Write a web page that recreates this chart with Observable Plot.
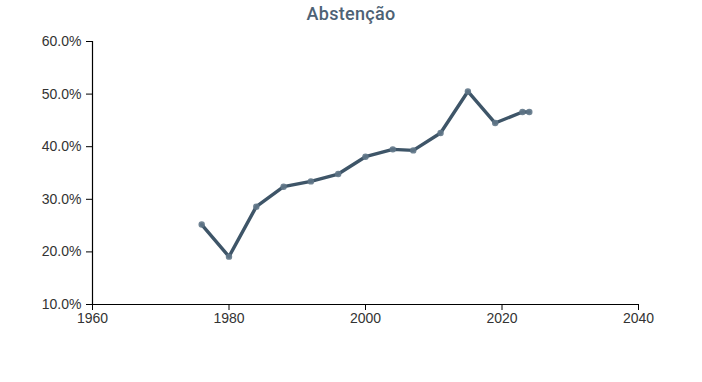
<!DOCTYPE html>
<html>
<head>
<meta charset="utf-8">
<script src="https://cdn.jsdelivr.net/npm/d3@7"></script>
<script src="https://cdn.jsdelivr.net/npm/@observablehq/plot@0.6"></script>
<style>
  html, body { margin: 0; padding: 0; background: #fff; }
  #wrap { width: 702px; height: 382px; position: relative; }
  #title { height: 28px; line-height: 28px; text-align: center; font-family: "Roboto", "Open Sans", sans-serif; font-weight: 500; font-size: 18px; color: #4d6275; letter-spacing: 0.3px; margin-bottom: 2px; }
</style>
</head>
<body>
<div id="wrap">
  <div id="title">Abstenção</div>
  <div id="chart"></div>
</div>
<script>
const years = [1976, 1980, 1984, 1988, 1992, 1996, 2000, 2004, 2007, 2011, 2015, 2019, 2023, 2024];
const abstention = [25.2, 19.1, 28.6, 32.4, 33.4, 34.8, 38.1, 39.5, 39.3, 42.6, 50.5, 44.5, 46.6, 46.6];
const xTicks = [1960, 1980, 2000, 2020, 2040];
const yTicks = [10, 20, 30, 40, 50, 60];

const data = years.map((y, i) => ({year: y, value: abstention[i] / 100}));
const xDomain = [xTicks[0], xTicks[xTicks.length - 1]];
const yDomain = [yTicks[0] / 100, yTicks[yTicks.length - 1] / 100];

const chart = Plot.plot({
  width: 702,
  height: 352,
  marginLeft: 92,
  marginRight: 64,
  marginTop: 11,
  marginBottom: 78,
  style: {fontFamily: "Liberation Sans, Arial, sans-serif", fontSize: "14px", color: "#333", background: "#fff"},
  x: {domain: xDomain, label: null},
  y: {domain: yDomain, label: null},
  marks: [
    Plot.axisX({ticks: xTicks, tickFormat: d => String(d), label: null, tickSize: 6, tickPadding: 3, stroke: "#000", fill: "#333"}),
    Plot.axisY({ticks: yTicks.map(t => t / 100), tickFormat: d3.format(".1%"), label: null, tickSize: 6, tickPadding: 5, stroke: "#000", fill: "#333"}),
    Plot.ruleX([xDomain[0]], {stroke: "#000", strokeWidth: 1.2}),
    Plot.ruleY([yDomain[0]], {stroke: "#000", strokeWidth: 1.2}),
    Plot.line(data, {x: "year", y: "value", stroke: "#3e5568", strokeWidth: 3.4, curve: "linear"}),
    Plot.dot(data, {x: "year", y: "value", r: 3.2, fill: "#5f7687", fillOpacity: 0.9, stroke: null})
  ]
});
document.getElementById("chart").appendChild(chart);
</script>
</body>
</html>
